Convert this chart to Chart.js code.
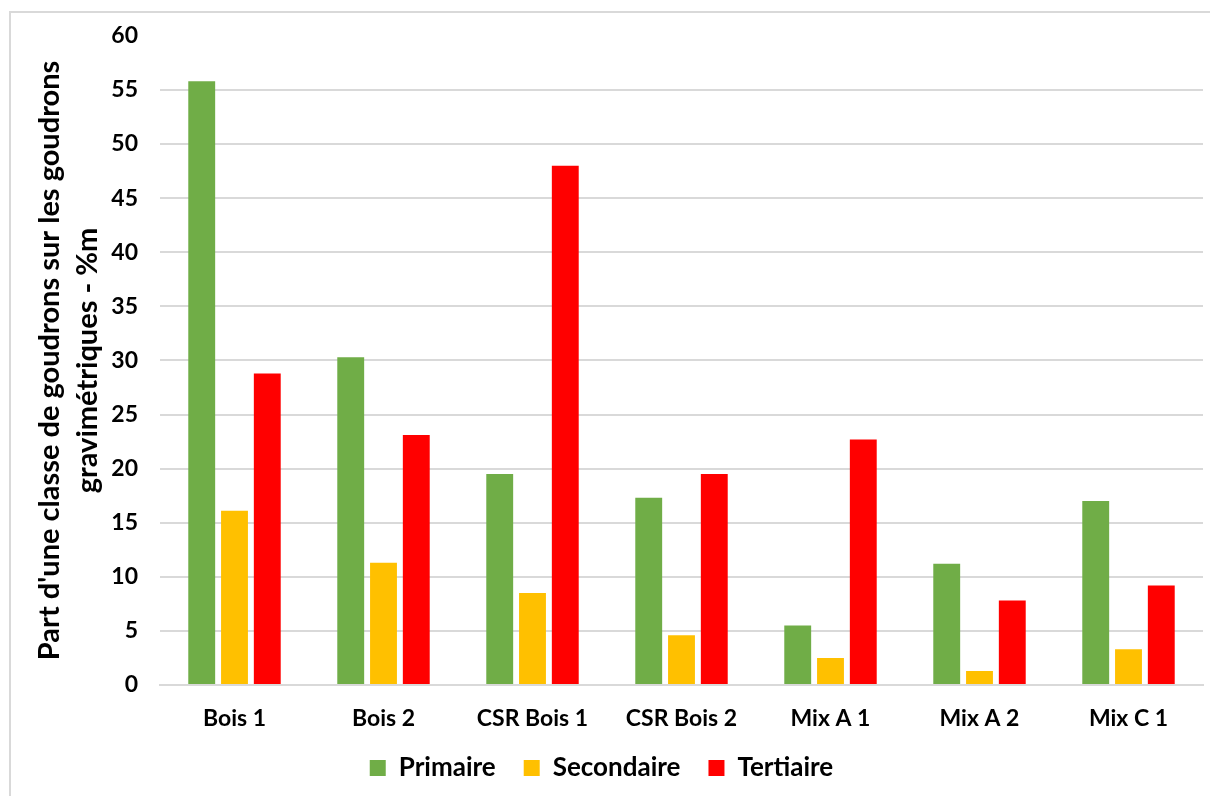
<!DOCTYPE html>
<html lang="fr">
<head>
<meta charset="UTF-8">
<script src="https://cdn.jsdelivr.net/npm/chart.js"></script>
<title>Goudrons</title>
<style>
  body { margin: 0; background: #fff; }
  .cadre { position: absolute; left: 9px; top: 11px; width: 1300px; height: 900px; border: 2px solid #d9d9d9; }
  .zone { position: absolute; left: 0; top: 0; width: 1210px; height: 796px; }
</style>
</head>
<body>
<div class="cadre"></div>
<div class="zone"><canvas id="graphe"></canvas></div>

<script>
const categories = ['Bois 1', 'Bois 2', 'CSR Bois 1', 'CSR Bois 2', 'Mix A 1', 'Mix A 2', 'Mix C 1'];
const primaire   = [55.8, 30.3, 19.5, 17.3, 5.5, 11.2, 17.0];
const secondaire = [16.1, 11.3, 8.5, 4.6, 2.5, 1.3, 3.3];
const tertiaire  = [28.8, 23.1, 48.0, 19.5, 22.7, 7.8, 9.2];
const titreY = ["Part d'une classe de goudrons sur les goudrons", 'gravimétriques - %m'];

const police = "Lato, 'Open Sans', sans-serif";

function serie(nom, valeurs, couleur) {
  return {
    label: nom,
    data: valeurs,
    backgroundColor: couleur,
    borderWidth: 0,
    categoryPercentage: 0.66,
    barPercentage: 0.82
  };
}

new Chart(document.getElementById('graphe'), {
  type: 'bar',
  data: {
    labels: categories,
    datasets: [
      serie('Primaire', primaire, '#70ad47'),
      serie('Secondaire', secondaire, '#ffc000'),
      serie('Tertiaire', tertiaire, '#ff0000')
    ]
  },
  options: {
    responsive: true,
    maintainAspectRatio: false,
    animation: false,
    layout: { padding: { top: 24, right: 7, bottom: 5, left: 0 } },
    plugins: {
      tooltip: { enabled: false },
      legend: {
        position: 'bottom',
        labels: {
          color: '#000',
          font: { family: police, size: 26, weight: 'bold' },
          boxWidth: 16,
          boxHeight: 16,
          padding: 28
        }
      }
    },
    scales: {
      x: {
        grid: { display: false, drawTicks: false },
        border: { color: '#d9d9d9', width: 2 },
        ticks: {
          color: '#000',
          padding: 20,
          font: { family: police, size: 23, weight: 'bold' }
        },
        afterFit: (s) => { s.height = 42; }
      },
      y: {
        min: 0,
        max: 60,
        ticks: {
          stepSize: 5,
          color: '#000',
          padding: 22,
          font: { family: police, size: 23, weight: 'bold' }
        },
        grid: {
          color: (c) => c.tick.value === 60 ? 'rgba(0,0,0,0)' : '#d9d9d9',
          lineWidth: 2,
          drawTicks: false
        },
        border: { display: false },
        title: {
          display: true,
          text: titreY,
          color: '#000',
          font: { family: police, size: 29, weight: 'bold', lineHeight: 1.3 },
          padding: { top: 31, bottom: 0 }
        },
        afterFit: (s) => { s.width = 160; }
      }
    }
  }
});
</script>
</body>
</html>
